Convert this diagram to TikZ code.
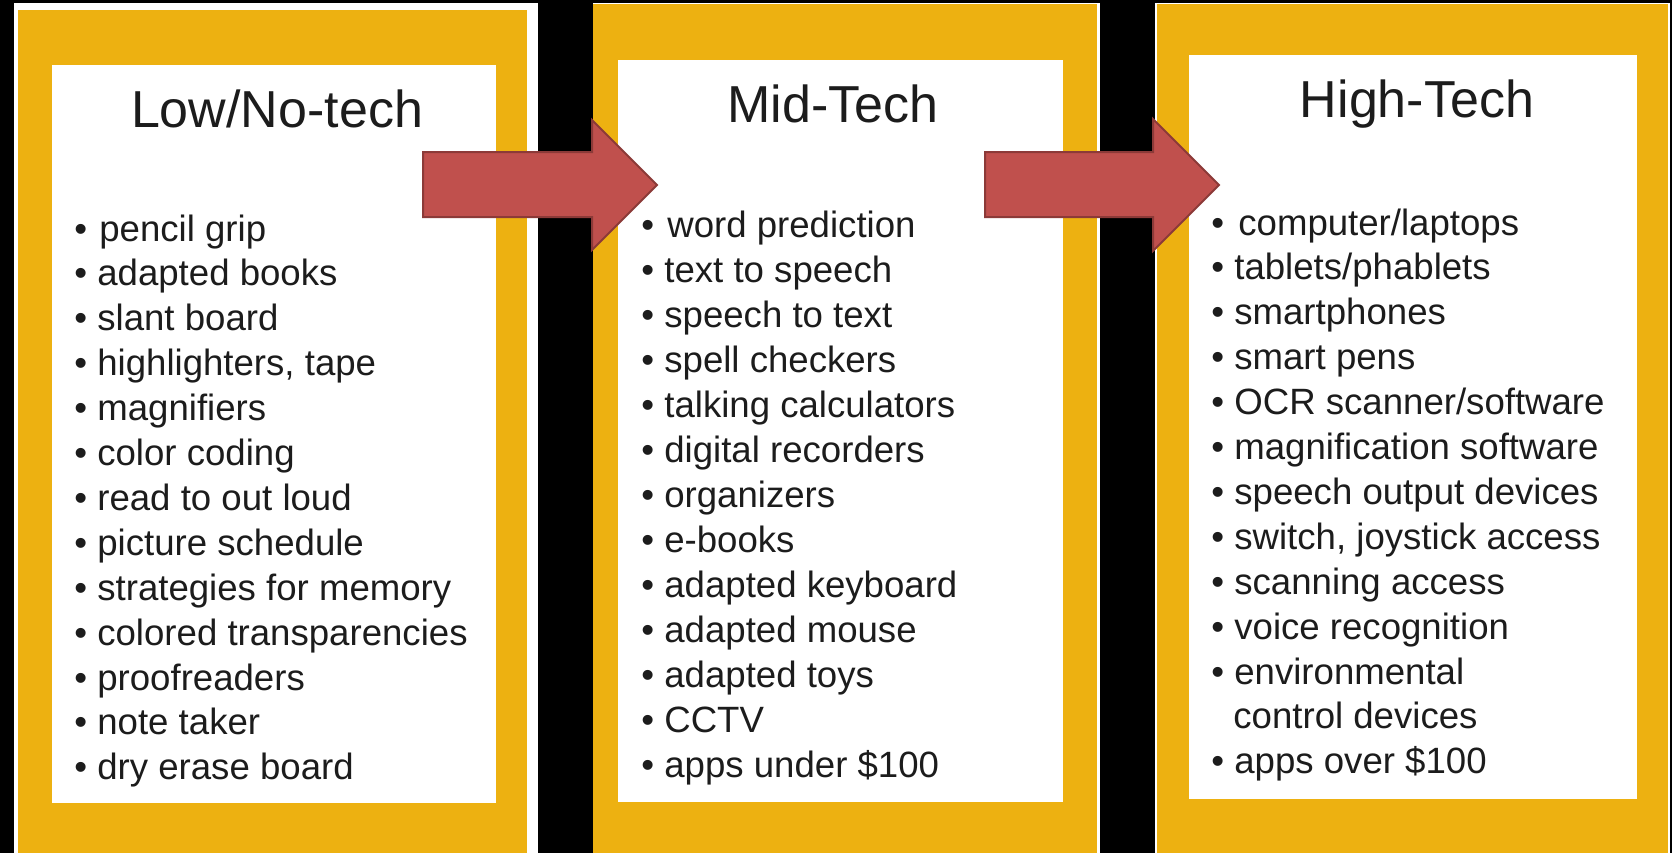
\documentclass[tikz,border=0pt]{standalone}
\usepackage{fontspec}
\setmainfont{Liberation Sans}
\definecolor{panelorange}{RGB}{237,177,17}
\definecolor{arrowfill}{RGB}{192,80,77}
\definecolor{arrowline}{RGB}{140,58,56}
\definecolor{inktext}{RGB}{28,28,28}
\newcommand{\itembul}{•\ }
\begin{document}
\begin{tikzpicture}[x=0.5pt,y=-0.5pt,
  titletext/.style={anchor=base,inner sep=0pt,font=\fontsize{26pt}{30pt}\selectfont,text=inktext},
  itemtext/.style={anchor=base west,inner sep=0pt,font=\fontsize{18.3pt}{22pt}\selectfont,text=inktext},
  blockarrow/.style={fill=arrowfill,draw=arrowline,line width=1pt,line join=miter}]
\fill[black] (0,0) rectangle (1672,853);
\useasboundingbox (0,0) rectangle (1672,853);
% left panel
\fill[white] (14,3) rectangle (538,853);
\fill[panelorange] (18,10) rectangle (527,853);
\fill[white] (52,65) rectangle (496,803);
% middle panel
\fill[white] (593,3) rectangle (1100,853);
\fill[panelorange] (593,4) rectangle (1097,853);
\fill[white] (618,60) rectangle (1063,802);
% right panel
\fill[white] (1155,3) rectangle (1670,853);
\fill[panelorange] (1157,4) rectangle (1668,853);
\fill[white] (1189,55) rectangle (1637,799);
% titles
\node[titletext] (tlow) at (277,127) {Low/No-tech};
\node[titletext] (tmid) at (833,122) {Mid-Tech};
\node[titletext] (thigh) at (1417,117) {High-Tech};
% lists
\foreach \t [count=\i from 0] in {{\itembul\hspace{1pt}pencil grip},{\itembul adapted books},{\itembul slant board},{\itembul highlighters, tape},{\itembul magnifiers},{\itembul color coding},{\itembul read to out loud},{\itembul picture schedule},{\itembul strategies for memory},{\itembul colored transparencies},{\itembul proofreaders},{\itembul note taker},{\itembul dry erase board}}
  \node[itemtext] (L\i) at (74,241+44.9*\i) {\t};
\foreach \t [count=\i from 0] in {{\itembul\hspace{1.5pt}word prediction},{\itembul text to speech},{\itembul speech to text},{\itembul spell checkers},{\itembul talking calculators},{\itembul digital recorders},{\itembul organizers},{\itembul e-books},{\itembul adapted keyboard},{\itembul adapted mouse},{\itembul adapted toys},{\itembul CCTV},{\itembul apps under \$100}}
  \node[itemtext] (M\i) at (641,237+45*\i) {\t};
\foreach \t [count=\i from 0] in {{\itembul\hspace{2pt}computer/laptops},{\itembul tablets/phablets},{\itembul smartphones},{\itembul smart pens},{\itembul OCR scanner/software},{\itembul magnification software},{\itembul speech output devices},{\itembul switch, joystick access},{\itembul scanning access},{\itembul voice recognition},{\itembul environmental}}
  \node[itemtext] (H\i) at (1211,235+44.9*\i) {\t};
\node[itemtext] (H11) at (1233,235+44.9*11) {control devices};
\node[itemtext] (H12) at (1211,235+44.9*12) {\itembul apps over \$100};
% block arrows
\draw[blockarrow] (423,152) -- (592,152) -- (592,120) -- (657,185) -- (592,250) -- (592,217) -- (423,217) -- cycle;
\draw[blockarrow] (985,152) -- (1153,152) -- (1153,119) -- (1219,185) -- (1153,251) -- (1153,217) -- (985,217) -- cycle;
\end{tikzpicture}
\end{document}
